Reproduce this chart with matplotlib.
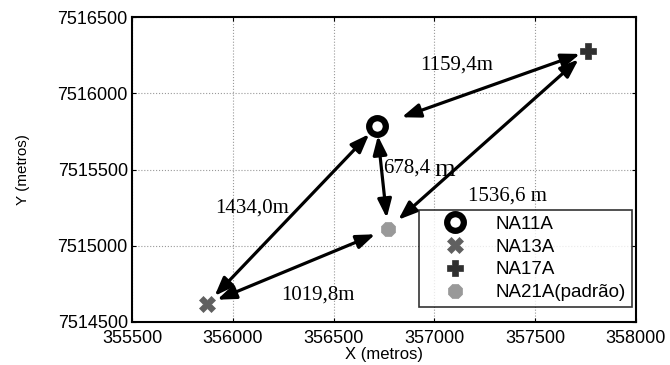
import numpy as np
import matplotlib.pyplot as plt

# station coordinates (UTM, metres)
stations = ['NA11A', 'NA13A', 'NA17A', 'NA21A(padrão)']
x_utm = [356715, 355872, 357762, 356770]
y_utm = [7515785, 7514618, 7516277, 7515110]

# distances between stations: (from, to, label)
pairs = [(0, 2, '1159,4m'), (0, 1, '1434,0m'), (0, 3, '678,4'),
         (3, 2, '1536,6 m'), (3, 1, '1019,8m')]
label_xy = [(357112, 7516185), (356095, 7515248), (356864, 7515510),
            (357365, 7515326), (356423, 7514677)]
# gap between arrow tips and markers (points)
gaps = [(19, 6), (8, 8), (7, 8), (10, 9), (10, 8)]

plt.rcParams['font.family'] = ['Liberation Sans', 'DejaVu Sans']

fig = plt.figure(figsize=(6.7, 3.65), dpi=100)
ax = fig.add_axes([0.197, 0.118, 0.752, 0.835])

styles = [dict(marker='o', ms=12, mfc='white', mec='black', mew=4.5),
          dict(marker='X', ms=11, mfc='#606060', mec='#606060', mew=0.5),
          dict(marker='P', ms=12, mfc='#303030', mec='#303030', mew=0.5),
          dict(marker='8', ms=11, mfc='#999999', mec='#999999', mew=0.5)]
for i in range(4):
    ax.plot(x_utm[i], y_utm[i], linestyle='none', label=stations[i], **styles[i])

for k, (a, b, txt) in enumerate(pairs):
    ax.annotate('', xy=(x_utm[b], y_utm[b]), xytext=(x_utm[a], y_utm[a]),
                arrowprops=dict(arrowstyle='<|-|>,head_length=0.8,head_width=0.3',
                                lw=2.3, color='black', mutation_scale=14,
                                shrinkA=gaps[k][0], shrinkB=gaps[k][1]))
    ax.text(label_xy[k][0], label_xy[k][1], txt, family='Liberation Serif',
            fontsize=15, ha='center', va='center')
# bigger unit letter on the short NA11A-NA21A distance
ax.text(357000, 7515500, 'm', family='Liberation Serif', fontsize=19,
        ha='left', va='center')

ax.set_xlim(355500, 358000)
ax.set_ylim(7514500, 7516500)
ax.set_xticks(np.arange(355500, 358001, 500))
ax.set_yticks(np.arange(7514500, 7516501, 500))
ax.ticklabel_format(useOffset=False, style='plain')
ax.tick_params(direction='in', length=3, top=True, right=True, labelsize=13)
ax.tick_params(axis='x', pad=6)
ax.tick_params(axis='y', pad=3)
ax.grid(True, color='#999999', linestyle=':', linewidth=0.8)
for s in ax.spines.values():
    s.set_linewidth(1.5)

ax.set_xlabel('X (metros)', fontsize=12, labelpad=0)
ax.set_ylabel('Y (metros)', fontsize=11, labelpad=20)

leg = ax.legend(loc='lower right', bbox_to_anchor=(0.992, 0.05), fontsize=13.5,
                frameon=True, fancybox=False, edgecolor='black',
                borderpad=0.3, labelspacing=0.3, handlelength=3.2,
                handletextpad=0.6, borderaxespad=0)
leg.get_frame().set_linewidth(1.2)

fig.savefig('out.png', dpi=100)
